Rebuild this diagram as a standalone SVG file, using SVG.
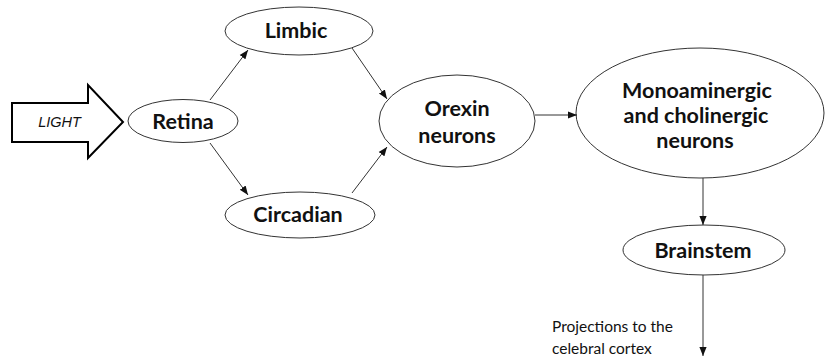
<svg xmlns="http://www.w3.org/2000/svg" width="827" height="364" viewBox="0 0 827 364">
<style>
.n{fill:#fff;stroke:#333;stroke-width:1}
.t{font-family:Lato,"Open Sans",sans-serif;font-weight:bold;font-size:21.5px;fill:#111;text-anchor:middle}
.c{stroke:#333;stroke-width:1;fill:none;marker-end:url(#ah)}
.s{font-family:Lato,"Open Sans",sans-serif;font-size:15.5px;fill:#111}
</style>
<defs>
<marker id="ah" viewBox="0 0 10 10" refX="10" refY="5" markerWidth="9" markerHeight="9" markerUnits="userSpaceOnUse" orient="auto">
<path d="M0,1 L10,5 L0,9 z" fill="#111"/>
</marker>
</defs>
<rect width="827" height="364" fill="#fff"/>
<g id="light">
<path d="M12,103 L88,103 L88,85 L123,122 L88,158 L88,142 L12,142 Z" fill="#fff" stroke="#000" stroke-width="2"/>
<text x="59.5" y="127" font-family="Liberation Sans,Arial,sans-serif" font-style="italic" font-size="14.5px" text-anchor="middle" fill="#111">LIGHT</text>
</g>
<g id="retina"><ellipse class="n" cx="183" cy="121" rx="55" ry="21.5"/><text class="t" x="183" y="128.5">Retina</text></g>
<g id="limbic"><ellipse class="n" cx="299" cy="31" rx="74" ry="24"/><text class="t" x="296" y="37.5">Limbic</text></g>
<g id="circadian"><ellipse class="n" cx="300" cy="215" rx="75" ry="23"/><text class="t" x="298" y="221.5">Circadian</text></g>
<g id="orexin"><ellipse class="n" cx="457" cy="121" rx="78" ry="46"/><text class="t" x="457" y="115.5">Orexin</text><text class="t" x="457" y="142.5">neurons</text></g>
<g id="mono"><ellipse class="n" cx="700" cy="113" rx="124" ry="65"/><text class="t" x="697" y="97.5">Monoaminergic</text><text class="t" x="696" y="122.5">and cholinergic</text><text class="t" x="695" y="147.5">neurons</text></g>
<g id="brainstem"><ellipse class="n" cx="704" cy="250" rx="81" ry="25"/><text class="t" x="703" y="257.5">Brainstem</text></g>
<g id="connectors">
<line class="c" x1="210" y1="100" x2="248" y2="50"/>
<line class="c" x1="210" y1="143" x2="248" y2="195"/>
<line class="c" x1="352" y1="48" x2="387" y2="99"/>
<line class="c" x1="352" y1="193" x2="387" y2="147"/>
<line class="c" x1="535" y1="115" x2="577" y2="115"/>
<line class="c" x1="703" y1="178" x2="703" y2="225"/>
<line class="c" x1="703" y1="275" x2="703" y2="356"/>
</g>
<text class="s" x="552" y="332">Projections to the</text>
<text class="s" x="552" y="354">celebral cortex</text>
</svg>
